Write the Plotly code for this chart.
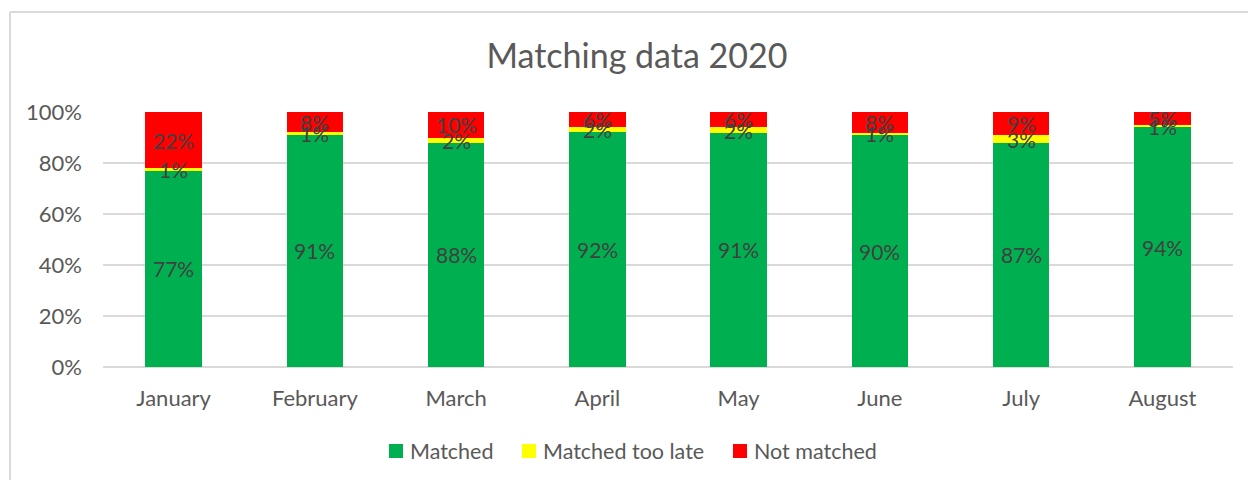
import plotly.graph_objects as go

months = ["January", "February", "March", "April", "May", "June", "July", "August"]
matched = [77, 91, 88, 92, 91, 90, 87, 94]
matched_late = [1, 1, 2, 2, 2, 1, 3, 1]
not_matched = [22, 8, 10, 6, 6, 8, 9, 5]

series = [
    ("Matched", matched, "#00B050"),
    ("Matched too late", matched_late, "#FFFF00"),
    ("Not matched", not_matched, "#FF0000"),
]

FONT = "Lato"
W, H = 1248, 480
L, R, T, B = 103, 15, 112, 113
PW, PH = W - L - R, H - T - B


def px_x(px):
    return (px - L) / PW


def px_y(py):
    return (H - B - py) / PH


fig = go.Figure()
for name, vals, color in series:
    fig.add_trace(go.Bar(
        x=months, y=vals, name=name,
        marker=dict(color=color, line=dict(width=0)),
        hoverinfo="x+y+name",
    ))

# data labels centred in each segment (positions derived from the data)
annotations = []
totals = [sum(t) for t in zip(matched, matched_late, not_matched)]
base = [0] * len(months)
for name, vals, color in series:
    for i, v in enumerate(vals):
        centre = (base[i] + v / 2) / totals[i] * 100
        annotations.append(dict(
            x=months[i], y=centre, xref="x", yref="y", text=f"{v}%",
            showarrow=False, xanchor="center", yanchor="middle",
            font=dict(family=FONT, size=21, color="#404040"),
        ))
        base[i] += v

# custom legend (Excel style: small square, tight gap)
legend_items = [("Matched", "#00B050", 389, 408),
                ("Matched too late", "#FFFF00", 522, 541),
                ("Not matched", "#FF0000", 733, 752)]
shapes = []
for name, color, sx, tx in legend_items:
    shapes.append(dict(type="rect", xref="paper", yref="paper",
                       x0=px_x(sx), x1=px_x(sx + 14), y0=px_y(458), y1=px_y(444),
                       fillcolor=color, line=dict(width=0)))
    annotations.append(dict(x=px_x(tx), y=px_y(451), xref="paper", yref="paper",
                            text=name, showarrow=False, xanchor="left", yanchor="middle",
                            font=dict(family=FONT, size=21.5, color="#595959")))

# chart border (top and left edges visible)
shapes.append(dict(type="line", xref="paper", yref="paper", x0=px_x(10), x1=px_x(1248),
                   y0=px_y(12), y1=px_y(12), line=dict(color="#D9D9D9", width=2)))
shapes.append(dict(type="line", xref="paper", yref="paper", x0=px_x(10), x1=px_x(10),
                   y0=px_y(12), y1=px_y(482), line=dict(color="#D9D9D9", width=2)))

fig.update_layout(
    barmode="stack",
    barnorm="percent",
    bargap=0.6,
    width=W, height=H,
    margin=dict(l=L, r=R, t=T, b=B),
    paper_bgcolor="white",
    plot_bgcolor="white",
    title=dict(text="Matching data 2020", x=637 / W, xanchor="center",
               y=1 - 56 / H, yanchor="middle", yref="container",
               font=dict(family=FONT, size=34, color="#595959")),
    font=dict(family=FONT, color="#595959"),
    showlegend=False,
    xaxis=dict(showgrid=False, showline=False, ticks="", ticklabelstandoff=16,
               tickfont=dict(family=FONT, size=22, color="#595959")),
    yaxis=dict(range=[0, 100], dtick=20, ticksuffix="%", showgrid=True,
               gridcolor="#D9D9D9", gridwidth=1.5, zeroline=True,
               zerolinecolor="#D9D9D9", zerolinewidth=1.5, showline=False,
               ticklabelstandoff=20,
               tickfont=dict(family=FONT, size=22, color="#595959")),
    shapes=shapes,
    annotations=annotations,
)

fig.write_html("out.html", config={"displayModeBar": False},
               post_script="document.body.style.margin='0';document.body.style.overflow='hidden';")
